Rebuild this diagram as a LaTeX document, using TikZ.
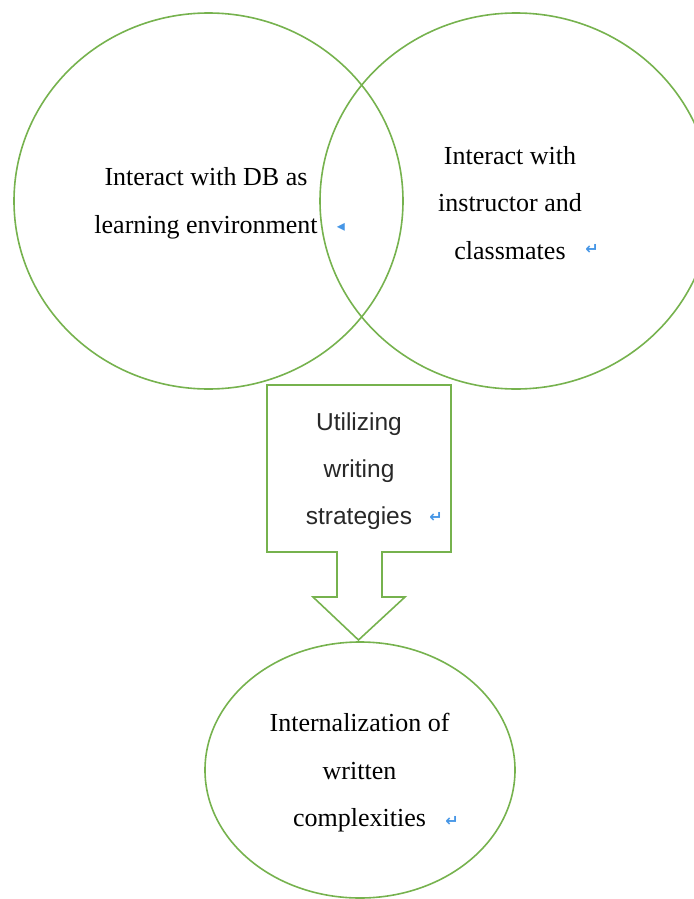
\documentclass[tikz,border=0pt]{standalone}
\usepackage{fontspec}
\setmainfont{Liberation Serif}
\newfontfamily\sansf{Liberation Sans}
\newfontfamily\symf{DejaVu Sans}
\definecolor{shapegreen}{RGB}{118,178,78}
\definecolor{markblue}{RGB}{70,150,230}
\definecolor{sanstext}{RGB}{40,40,40}
\tikzset{
  shapeline/.style={draw=shapegreen, line width=1.6bp},
  serifbody/.style={align=center, font=\fontsize{26bp}{47.5bp}\selectfont, inner sep=0pt},
  sansbody/.style={align=center, text=sanstext, font=\sansf\fontsize{24.5bp}{47bp}\selectfont, inner sep=0pt},
  retmark/.style={text=markblue, font=\symf\bfseries\fontsize{16bp}{16bp}\selectfont, inner sep=0pt}
}
\begin{document}
\begin{tikzpicture}[x=1bp,y=-1bp]
\useasboundingbox (0,0) rectangle (694,899);
% circles
\draw[shapeline] (208.5,201) ellipse [x radius=194.5, y radius=188];
\draw[shapeline] (516,201) ellipse [x radius=196, y radius=188];
% arrow box
\draw[shapeline, line join=miter] (267,385) -- (451,385) -- (451,552) -- (382,552) -- (382,597) -- (405,597)
   -- (358.5,640) -- (313,597) -- (337,597) -- (337,552) -- (267,552) -- cycle;
% bottom ellipse
\draw[shapeline] (360,770) ellipse [x radius=155, y radius=128];
% texts
\node[serifbody] (db) at (206,203.5) {Interact with DB as\\learning environment};
\node[serifbody] (peers) at (510,203) {Interact with\\instructor and\\classmates};
\node[sansbody] (strat) at (359,471.5) {Utilizing\\writing\\strategies};
\node[serifbody] (intern) at (359.5,773) {Internalization of\\written\\complexities};
% paragraph marks
\node[retmark] (m1) at (341,227) {◂};
\node[retmark] (m2) at (592,249) {↵};
\node[retmark] (m3) at (436,517) {↵};
\node[retmark] (m4) at (452,821) {↵};
\end{tikzpicture}
\end{document}
